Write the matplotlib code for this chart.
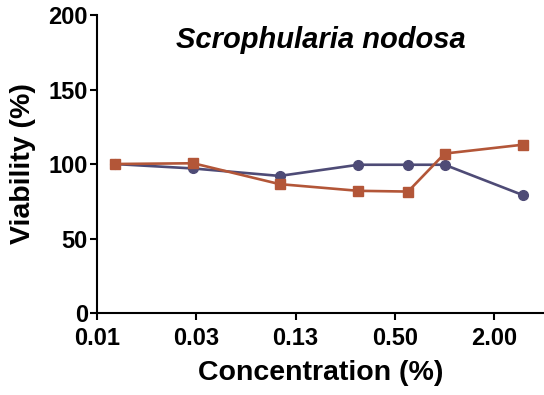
import matplotlib
matplotlib.use("Agg")
from matplotlib import pyplot as plt

plt.rcParams["font.family"] = ["Liberation Sans", "DejaVu Sans"]
plt.rcParams["font.weight"] = "bold"

# 농도 (%) 및 생존율 (%)
concentrations = [0.01, 0.03, 0.1, 0.3, 0.6, 1.0, 3.0]
viability_a = [100, 97, 92, 99.5, 99.5, 99.5, 79]
viability_b = [100, 100.5, 86.5, 82, 81.5, 107, 113]

tick_values = [0.0078125, 0.03125, 0.125, 0.5, 2.0]
tick_labels = ["0.01", "0.03", "0.13", "0.50", "2.00"]
y_ticks = [0, 50, 100, 150, 200]

purple = "#4e4b76"
orange = "#b35638"

fig = plt.figure(figsize=(5.44, 3.95), dpi=100)
ax = fig.add_axes([0.178, 0.2076, 0.822, 0.7544])

ax.plot(concentrations, viability_a, color=purple, lw=1.9, marker="o", ms=7,
        clip_on=False, zorder=3)
ax.plot(concentrations, viability_b, color=orange, lw=1.9, marker="s", ms=7,
        clip_on=False, zorder=4)

ax.set_xscale("log", base=2)
ax.set_xlim(0.0078125, 4.0)
ax.set_ylim(0, 200)
ax.set_xticks(tick_values)
ax.set_xticklabels(tick_labels)
ax.xaxis.set_minor_locator(matplotlib.ticker.NullLocator())
ax.set_yticks(y_ticks)

for side in ["top", "right"]:
    ax.spines[side].set_visible(False)
for side in ["left", "bottom"]:
    ax.spines[side].set_linewidth(1.5)

ax.tick_params(axis="both", width=1.5, length=5, labelsize=17)
ax.tick_params(axis="x", pad=5)
ax.tick_params(axis="y", pad=1.5)
for lab in ax.get_xticklabels() + ax.get_yticklabels():
    lab.set_fontweight("bold")

ax.set_xlabel("Concentration (%)", fontsize=20.5, fontweight="bold", labelpad=7.5)
ax.set_ylabel("Viability (%)", fontsize=20.5, fontweight="bold", labelpad=8.5)

ax.text(0.5, 0.915, "Scrophularia nodosa", transform=ax.transAxes,
        ha="center", va="center", fontsize=21, fontweight="bold",
        fontstyle="italic")

fig.savefig("out.png", dpi=100)
